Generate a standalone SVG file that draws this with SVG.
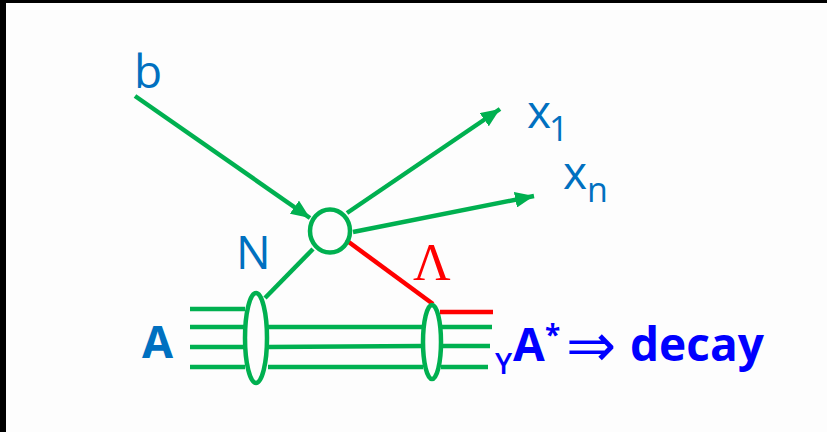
<svg xmlns="http://www.w3.org/2000/svg" width="827" height="432" viewBox="0 0 827 432">
<defs>
<style>
.g{stroke:#00B050;stroke-width:4.5;fill:none}
.r{stroke:#FF0000;stroke-width:4.5;fill:none}
.t{font-family:"Open Sans","Liberation Sans",sans-serif;fill:#0070C0}
.b{font-family:"Open Sans","Liberation Sans",sans-serif;fill:#0000FF;font-weight:bold}
.n{font-weight:normal}
.s{font-weight:600}
</style>
<marker id="ah" markerUnits="userSpaceOnUse" markerWidth="20" markerHeight="16" refX="19" refY="8" orient="auto">
<path d="M0,0 L19,8 L0,16 z" fill="#00B050"/>
</marker>
</defs>
<rect x="0" y="0" width="827" height="432" fill="#000"/>
<rect x="6" y="3" width="821" height="429" fill="#FDFDFD"/>
<g id="connectors">
<line class="g" x1="135" y1="96" x2="310" y2="218" marker-end="url(#ah)"/>
<line class="g" x1="347" y1="213" x2="500" y2="109" marker-end="url(#ah)"/>
<line class="g" x1="353" y1="232" x2="534" y2="196" marker-end="url(#ah)"/>
<line class="g" x1="265" y1="298" x2="313" y2="249"/>
<polyline class="r" points="346,240 433,304"/>
<line class="r" x1="440" y1="312" x2="493" y2="312"/>
<line class="g" x1="190" y1="309" x2="245" y2="309"/>
<line class="g" x1="190" y1="327" x2="245" y2="327"/>
<line class="g" x1="190" y1="347" x2="245" y2="347"/>
<line class="g" x1="190" y1="367" x2="245" y2="367"/>
<line class="g" x1="268" y1="327" x2="423" y2="327"/>
<line class="g" x1="268" y1="347" x2="423" y2="346"/>
<line class="g" x1="268" y1="367" x2="423" y2="367"/>
<line class="g" x1="441" y1="327" x2="492" y2="327"/>
<line class="g" x1="441" y1="346" x2="490" y2="346"/>
<line class="g" x1="441" y1="367" x2="488" y2="367"/>
</g>
<g id="vertex">
<ellipse class="g" cx="330" cy="231" rx="20" ry="21.5" fill="#FFFFFF"/>
</g>
<g id="nucleus-left">
<ellipse class="g" cx="256" cy="338" rx="11" ry="45" fill="#FFFFFF"/>
</g>
<g id="nucleus-right">
<ellipse class="g" cx="432" cy="342" rx="9" ry="37" fill="#FFFFFF"/>
</g>
<g id="labels">
<text class="t" x="134" y="88" font-size="46">b</text>
<text class="t" x="527" y="128" font-size="46">x</text>
<text class="t" x="549" y="141" font-size="34">1</text>
<text class="t" x="563" y="189" font-size="46">x</text>
<text class="t" x="587" y="202" font-size="34">n</text>
<text class="t" x="236" y="269" font-size="46">N</text>
<text x="413" y="280" font-size="52" fill="#FF0000" font-family="'Liberation Serif','Times New Roman',serif">Λ</text>
<text class="t" x="142" y="358" font-size="45" font-weight="bold">A</text>
<text class="b s" x="495" y="374" font-size="29">Y</text>
<text class="b" x="513" y="361" font-size="46">A</text>
<text class="b" x="545" y="345" font-size="28">*</text>
<text class="b n" x="566" y="366" font-size="60" style="font-family:'DejaVu Sans',sans-serif">⇒</text>
<text class="b" x="630" y="361" font-size="46">decay</text>
</g>
</svg>
